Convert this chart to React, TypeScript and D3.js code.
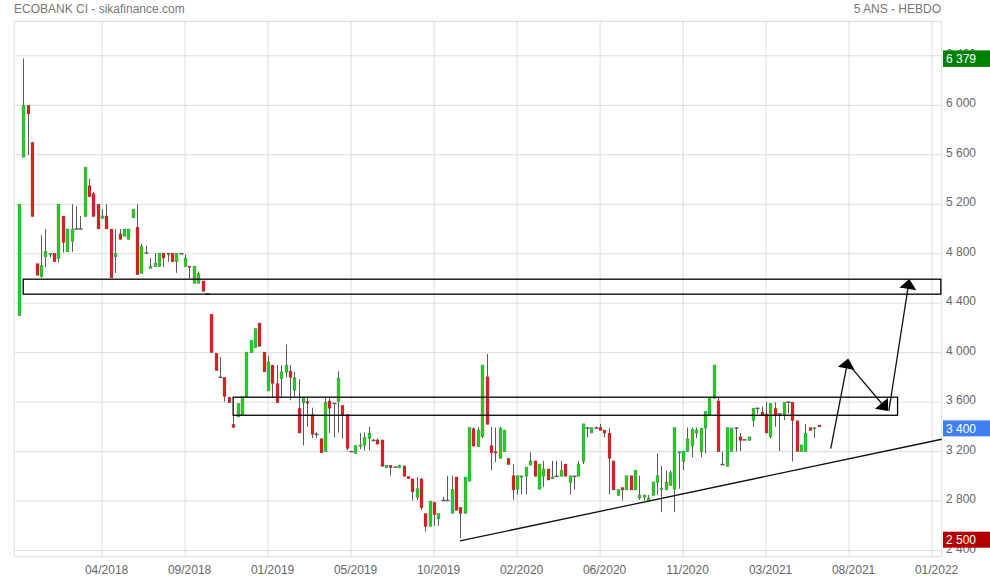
import React from "react";
import * as d3 from "d3";

const W = 990;
const H = 580;

// Weekly OHLC (week index 0 = first bar)
const open = [4300,5580,6000,5700,4720,4615,4775,4790,4805,4760,5105,4815,4900,5000,5000,5100,5350,5285,5200,5085,5105,5000,4775,4960,4940,4915,5090,5015,4640,4805,4680,4695,4695,4805,4805,4805,4735,4800,4695,4700,4560,4560,4580,4475,4310,3995,3800,3800,3640,3420,3480,3495,3645,4000,4040,4240,4005,3690,3900,3750,3790,3840,3850,3695,3550,3595,3605,3500,3340,3305,3200,3610,3590,3605,3575,3500,3200,3185,3240,3250,3305,3290,3295,3295,3070,3090,3075,3070,3085,3000,2980,2830,2980,2700,2595,2790,2655,2805,2805,2700,2995,2750,2700,2960,3385,3240,3320,3805,3250,3200,3145,3200,3145,3005,2895,2990,3000,3090,3125,2895,3000,3060,2980,3000,3000,3100,2950,3000,3000,3120,3390,3350,3390,3395,3375,3350,3125,2845,2910,2890,3005,2890,2825,2830,2800,2845,2950,2895,2890,2925,2895,3190,3120,3200,3245,3350,3200,3390,3495,3630,3610,3095,3080,3200,3390,3320,3295,3290,3450,3550,3520,3505,3320,3550,3505,3495,3600,3600,3450,3200,3200,3395,3385,3415];
const high = [5200,6379,6000,5700,4720,4950,5000,4805,4805,5200,5105,5000,5200,5185,5105,5500,5405,5300,5200,5160,5200,5000,5000,5000,5000,5000,5160,5200,4880,4865,4765,4805,4805,4805,4805,4805,4805,4805,4795,4700,4700,4655,4580,4475,4310,3995,3965,3800,3640,3495,3590,3645,4005,4100,4195,4240,4005,3975,3900,3900,3900,4065,3900,3845,3785,3645,3645,3555,3355,3305,3645,3645,3590,3850,3575,3500,3200,3250,3350,3355,3400,3305,3305,3295,3090,3090,3075,3095,3085,3000,2980,2995,2985,2700,2800,2790,2700,2835,3005,3005,2995,2750,2995,3395,3395,3395,3900,3990,3400,3395,3400,3375,3145,3100,3005,3005,3075,3195,3125,3100,3125,3060,3125,3125,3125,3100,3005,3000,3125,3425,3400,3395,3405,3425,3375,3390,3125,2895,2910,3005,3005,3050,3005,2850,2850,2955,3185,3085,3045,3050,3395,3205,3205,3395,3395,3395,3390,3525,3640,3900,3640,3200,3395,3395,3395,3350,3295,3320,3550,3550,3565,3600,3590,3600,3505,3600,3600,3600,3450,3255,3425,3395,3395,3415];
const low = [4300,5580,5600,5100,4625,4605,4690,4770,4735,4730,4810,4815,4815,5000,5000,5100,5260,5100,5000,5085,5000,4605,4645,4915,4940,4915,5090,4630,4640,4805,4680,4695,4695,4690,4735,4735,4645,4800,4695,4600,4560,4560,4495,4475,4000,3855,3800,3605,3595,3395,3480,3495,3645,4000,4040,4050,3845,3690,3635,3595,3640,3800,3615,3645,3350,3250,3400,3310,3310,3190,3200,3350,3315,3355,3305,3210,3200,3185,3220,3210,3210,3285,3260,3080,3065,3005,3075,3065,3000,2980,2805,2810,2730,2555,2595,2600,2600,2805,2805,2700,2725,2500,2700,2960,3240,3240,3308,3420,3050,3115,3145,3200,3095,2810,2855,2855,2855,3090,3000,2895,2915,2970,2980,3000,3000,3000,2855,2895,3000,3100,3315,3350,3390,3370,3315,2855,2890,2845,2805,2890,2890,2890,2810,2805,2800,2845,2850,2710,2890,2925,2710,2900,3050,3200,3155,3310,3155,3185,3495,3630,3200,3095,3080,3200,3200,3205,3295,3290,3400,3505,3495,3350,3305,3400,3205,3455,3505,3120,3200,3200,3200,3370,3310,3400];
const close = [5200,6000,5930,5100,4625,4705,4820,4805,4735,5200,4890,5000,5000,5000,5000,5500,5260,5100,5000,5105,5000,4605,4805,4915,5000,5000,5160,4630,4860,4805,4700,4725,4805,4765,4795,4735,4805,4800,4765,4690,4700,4640,4495,4475,4000,3855,3800,3645,3595,3395,3590,3645,4005,4100,4195,4050,3845,3925,3750,3595,3845,3900,3800,3800,3350,3635,3590,3340,3340,3190,3600,3550,3590,3795,3495,3225,3200,3250,3255,3315,3350,3290,3260,3080,3090,3070,3075,3090,3000,2980,2875,2900,2745,2595,2800,2690,2700,2805,2805,2895,2725,2700,2995,3395,3245,3375,3900,3420,3190,3190,3390,3375,3095,2890,3005,3005,3075,3125,3000,3100,3060,2970,2995,3000,3050,3000,3005,3000,3100,3425,3390,3395,3390,3370,3350,3145,2890,2895,2890,3005,2890,3050,2850,2850,2825,2955,3005,2905,2955,3030,3395,3200,3205,3305,3380,3375,3390,3525,3640,3900,3200,3095,3395,3390,3390,3290,3295,3320,3550,3550,3495,3350,3590,3495,3505,3600,3600,3450,3200,3255,3350,3370,3395,3400];

const weeks = open.map((_, i) => i);

// X axis: week index of each tick and its label
const xTickWeeks = [19, 38, 57, 76, 95, 114, 133, 152, 171, 190, 209];
const xTickLabels = ["04/2018", "09/2018", "01/2019", "05/2019", "10/2019", "02/2020", "06/2020", "11/2020", "03/2021", "08/2021", "01/2022"];
const yTicks = [2400, 2800, 3200, 3600, 4000, 4400, 4800, 5200, 5600, 6000, 6400];

const maxHigh = 6379;
const lastClose = 3400;
const minLow = 2500;

// Drawn annotations, in (week, price) space
const zoneStart = [0.94, 49.0];
const zoneEnd = [211.0, 201.1];
const zoneLow = [4473, 3494];
const zoneHigh = [4594, 3640];
const trendWeeks = [100.9, 211.2];
const trendPrices = [2478, 3300];
const arrowFromWeek = [185.8, 190.2, 199.1];
const arrowFromPrice = [3224, 3893, 3529];
const arrowToWeek = [189.8, 198.9, 203.8];
const arrowToPrice = [3952, 3529, 4596];

const fmt = (v: number) => d3.format(",")(v).replace(/,/g, " ");

export default function App() {
  const left = 14.3, right = 941.7, top = 21.3, bottom = 556.7;
  const x = d3.scaleLinear().domain([-1.1, 211.2]).range([left, right]);
  const y = d3.scaleLinear().domain([2350.5, 6679]).range([bottom, top]);
  const grid = "#dcdcdc";
  const green = "#22d022";
  const red = "#dd1f1f";
  const wick = "#5a5a5a";
  const font = "'Liberation Sans', Arial, sans-serif";

  const arrowHead = (x1: number, y1: number, x2: number, y2: number) => {
    const dx = x2 - x1, dy = y2 - y1;
    const len = Math.hypot(dx, dy);
    const ux = dx / len, uy = dy / len;
    const L = 10, hw = 8.5;
    const bx = x2 - ux * L, by = y2 - uy * L;
    const px = -uy, py = ux;
    return {
      pts: `${x2},${y2} ${bx + px * hw},${by + py * hw} ${bx - px * hw},${by - py * hw}`,
      bx, by,
    };
  };

  return (
    <svg width={W} height={H} style={{ position: "absolute", left: 0, top: 0, background: "#fff" }} fontFamily={font}>
      <rect x={0} y={0} width={W} height={H} fill="#fff" />
      <text x={14} y={13} fontSize={12} fill="#777">ECOBANK CI - sikafinance.com</text>
      <text x={941} y={13} fontSize={12} fill="#777" textAnchor="end">5 ANS - HEBDO</text>

      {/* grid */}
      {yTicks.map((v) => (
        <line key={"gy" + v} x1={left} x2={right} y1={y(v)} y2={y(v)} stroke={grid} strokeWidth={1} />
      ))}
      {xTickWeeks.map((w) => (
        <line key={"gx" + w} x1={x(w)} x2={x(w)} y1={top} y2={bottom} stroke={grid} strokeWidth={1} />
      ))}
      <rect x={left} y={top} width={right - left} height={bottom - top} fill="none" stroke={grid} strokeWidth={1} />

      {/* x labels */}
      {xTickWeeks.map((w, i) => (
        <text key={"xl" + w} x={x(w) + 4.5} y={574} fontSize={12} fill="#666" textAnchor="middle">{xTickLabels[i]}</text>
      ))}
      {/* y labels */}
      {yTicks.map((v) => (
        <text key={"yl" + v} x={946} y={y(v) + 2} fontSize={12} fill="#666">{fmt(v)}</text>
      ))}

      {/* candles */}
      {weeks.map((i) => {
        const cx = Math.round(x(i));
        const o = open[i], c = close[i], h = high[i], l = low[i];
        const col = c > o ? green : c < o ? red : null;
        const yt = y(Math.max(o, c)), yb = y(Math.min(o, c));
        return (
          <g key={"c" + i}>
            {h > l && <line x1={cx + 0.5} x2={cx + 0.5} y1={y(h)} y2={y(l)} stroke={wick} strokeWidth={1} />}
            {col ? (
              <rect x={cx - 1} y={yt} width={3} height={Math.max(1.5, yb - yt)} fill={col} stroke="#4a4a4a" strokeOpacity={0.45} strokeWidth={0.5} />
            ) : (
              <line x1={cx - 1.5} x2={cx + 2.5} y1={yt} y2={yt} stroke={wick} strokeWidth={1.5} />
            )}
          </g>
        );
      })}

      {/* zones */}
      {zoneStart.map((s, i) => (
        <rect key={"z" + i} x={x(s)} y={y(zoneHigh[i])} width={x(zoneEnd[i]) - x(s)} height={y(zoneLow[i]) - y(zoneHigh[i])} fill="none" stroke="#000" strokeWidth={1.3} />
      ))}
      {/* trend line */}
      <line x1={x(trendWeeks[0])} y1={y(trendPrices[0])} x2={x(trendWeeks[1])} y2={y(trendPrices[1])} stroke="#111" strokeWidth={1.3} />
      {/* arrows */}
      {arrowFromWeek.map((fw, i) => {
        const x1 = x(fw), y1 = y(arrowFromPrice[i]);
        const x2 = x(arrowToWeek[i]), y2 = y(arrowToPrice[i]);
        const hd = arrowHead(x1, y1, x2, y2);
        return (
          <g key={"a" + i}>
            <line x1={x1} y1={y1} x2={hd.bx} y2={hd.by} stroke="#111" strokeWidth={1.3} />
            <polygon points={hd.pts} fill="#000" />
          </g>
        );
      })}

      {/* value tags */}
      <rect x={943} y={y(maxHigh) - 8} width={47} height={16.5} fill="#008000" />
      <text x={946} y={y(maxHigh) + 4.5} fontSize={12} fill="#fff">{fmt(maxHigh)}</text>
      <rect x={943} y={y(lastClose) - 6.5} width={47} height={16} fill="#3f7ff2" />
      <text x={946} y={y(lastClose) + 6} fontSize={12} fill="#fff">{fmt(lastClose)}</text>
      <rect x={943} y={y(minLow) - 6.5} width={47} height={16} fill="#b30000" />
      <text x={946} y={y(minLow) + 6} fontSize={12} fill="#fff">{fmt(minLow)}</text>
    </svg>
  );
}
